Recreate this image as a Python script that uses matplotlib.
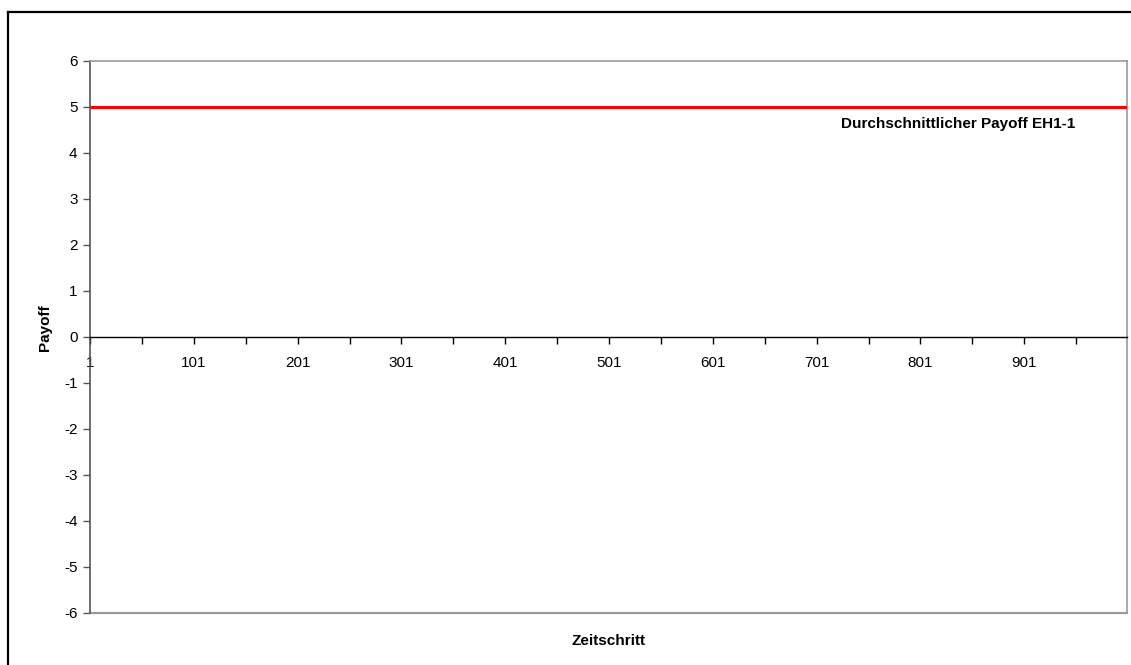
import numpy as np
import matplotlib
matplotlib.use('Agg')
from matplotlib import pyplot as plt
from matplotlib.lines import Line2D

plt.rcParams['font.family'] = ['Liberation Sans', 'DejaVu Sans']

# data
steps = np.arange(1, 1001)
avg_payoff = np.full(len(steps), 5.0)
series_label = 'Durchschnittlicher Payoff EH1-1'
x_labels = [1, 101, 201, 301, 401, 501, 601, 701, 801, 901]
y_ticks = [-6, -5, -4, -3, -2, -1, 0, 1, 2, 3, 4, 5, 6]

W, H = 1131, 665
fig = plt.figure(figsize=(W / 100, H / 100), dpi=100)
fig.patch.set_facecolor('white')

# outer border of the chart object (only top and left visible)
fig.add_artist(Line2D([8 / W, 8 / W], [0, 1 - 12 / H], color='black', lw=1.6))
fig.add_artist(Line2D([8 / W, 1], [1 - 12 / H, 1 - 12 / H], color='black', lw=1.6))

ax = fig.add_axes([90 / W, 1 - 613 / H, (1127 - 90) / W, (613 - 61) / H])
ax.set_xlim(1, 1000)
ax.set_ylim(-6, 6)

ax.plot(steps, avg_payoff, color='#ff0000', lw=2.2, solid_capstyle='butt', zorder=3)
ax.text(837, 4.63, series_label, fontsize=11, fontweight='bold', ha='center', va='center')

# plot area frame
for s in ['top', 'right']:
    ax.spines[s].set_color('#999999')
    ax.spines[s].set_linewidth(1.2)
ax.spines['left'].set_color('#555555')
ax.spines['left'].set_linewidth(1.2)
ax.spines['bottom'].set_position(('data', 0))
ax.spines['bottom'].set_color('black')
ax.spines['bottom'].set_linewidth(1.0)
ax.axhline(-6, color='#999999', lw=1.6, clip_on=False)

ax.set_yticks(y_ticks)
ax.set_yticklabels([str(v) for v in y_ticks], fontsize=11)
ax.tick_params(axis='y', direction='out', length=5, width=1, color='#555555', pad=4)

ticks = np.arange(1, 1001, 50)
ax.set_xticks(ticks)
ax.set_xticklabels([str(v) if v in x_labels else '' for v in ticks], fontsize=11)
ax.tick_params(axis='x', direction='out', length=5, width=1, color='black', pad=9)

fig.text(45 / W, 1 - 328 / H, 'Payoff', rotation=90, fontsize=11, fontweight='bold',
         ha='center', va='center')
fig.text(608 / W, 1 - 641 / H, 'Zeitschritt', fontsize=11, fontweight='bold',
         ha='center', va='center')

plt.savefig('out.png', dpi=100, facecolor=fig.get_facecolor())
